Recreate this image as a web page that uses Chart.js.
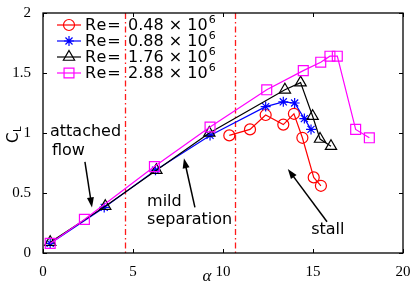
<!DOCTYPE html>
<html>
<head>
<meta charset="utf-8">
<script src="https://cdn.jsdelivr.net/npm/chart.js@4.4.0/dist/chart.umd.min.js"></script>
<style>
  html, body { margin: 0; padding: 0; background: #fff; }
</style>
</head>
<body>
<canvas id="myChart" width="415" height="284"></canvas>
<script>
// angle of attack and lift coefficient, one pair of arrays per Reynolds number
const alphaRe048 = [10.35, 11.5, 12.37, 13.35, 13.94, 14.41, 15.04, 15.44];
const clRe048 = [0.98, 1.03, 1.15, 1.07, 1.16, 0.96, 0.63, 0.56];

const alphaRe088 = [0.4, 3.4, 6.25, 9.28, 12.37, 13.35, 13.98, 14.52, 14.89];
const clRe088 = [0.08, 0.38, 0.69, 0.98, 1.22, 1.26, 1.25, 1.12, 1.03];

const alphaRe176 = [0.4, 3.46, 6.3, 9.24, 13.44, 14.31, 14.98, 15.39, 16.0];
const clRe176 = [0.09, 0.39, 0.69, 1.0, 1.36, 1.42, 1.14, 0.95, 0.89];

const alphaRe288 = [0.4, 2.3, 6.19, 9.28, 12.43, 14.46, 15.43, 15.94, 16.35, 17.37, 18.13];
const clRe288 = [0.08, 0.28, 0.72, 1.05, 1.36, 1.52, 1.59, 1.64, 1.64, 1.03, 0.96];

const reLabels = ['0.48', '0.88', '1.76', '2.88'];
const xTicks = [0, 5, 10, 15, 20];
const yTicks = [0, 0.5, 1, 1.5, 2];

// regime boundaries (dash-dot lines)
const regimeLines = [4.57, 10.67];

const toPoints = (xs, ys) => xs.map((x, i) => ({ x: x, y: ys[i] }));

const series = [
  { data: toPoints(alphaRe048, clRe048), color: '#ff0000', style: 'circle', radius: 5.5 },
  { data: toPoints(alphaRe088, clRe088), color: '#0000ff', style: 'star', radius: 5 },
  { data: toPoints(alphaRe176, clRe176), color: '#000000', style: 'triangle', radius: 6.5 },
  { data: toPoints(alphaRe288, clRe288), color: '#ff00ff', style: 'rect', radius: 7 },
];

// text notes and arrows, in data coordinates
const notes = [
  { text: 'attached', x: 0.39, y: 1.01 },
  { text: 'flow', x: 0.5, y: 0.85 },
  { text: 'mild', x: 5.78, y: 0.43 },
  { text: 'separation', x: 5.78, y: 0.275 },
  { text: 'stall', x: 14.9, y: 0.19 },
];
const arrows = [
  { from: [2.33, 0.76], to: [2.72, 0.38] },
  { from: [8.44, 0.38], to: [7.83, 0.79] },
  { from: [15.78, 0.26], to: [13.6, 0.70] },
];

const SANS = '"DejaVu Sans", sans-serif';
const SERIF = 'Liberation Serif';

const regimePlugin = {
  id: 'regimes',
  beforeDatasetsDraw(chart) {
    const { ctx, chartArea, scales } = chart;
    ctx.save();
    ctx.strokeStyle = '#ff1a1a';
    ctx.lineWidth = 1.3;
    ctx.setLineDash([6, 3, 1.5, 3]);
    regimeLines.forEach((a) => {
      const px = Math.round(scales.x.getPixelForValue(a)) + 0.5;
      ctx.beginPath();
      ctx.moveTo(px, chartArea.top);
      ctx.lineTo(px, chartArea.bottom);
      ctx.stroke();
    });
    ctx.restore();
  },
};

const decorPlugin = {
  id: 'decor',
  afterDraw(chart) {
    const { ctx, chartArea, scales } = chart;
    const { left, right, top, bottom } = chartArea;
    ctx.save();

    // frame and inward ticks
    ctx.strokeStyle = '#000';
    ctx.lineWidth = 1.3;
    ctx.strokeRect(left, top, right - left, bottom - top);
    ctx.lineWidth = 1;
    const tl = 4;
    xTicks.forEach((v) => {
      const px = Math.round(scales.x.getPixelForValue(v)) + 0.5;
      ctx.beginPath();
      ctx.moveTo(px, bottom); ctx.lineTo(px, bottom - tl);
      ctx.moveTo(px, top); ctx.lineTo(px, top + tl);
      ctx.stroke();
    });
    yTicks.forEach((v) => {
      const py = Math.round(scales.y.getPixelForValue(v)) + 0.5;
      ctx.beginPath();
      ctx.moveTo(left, py); ctx.lineTo(left + tl, py);
      ctx.moveTo(right, py); ctx.lineTo(right - tl, py);
      ctx.stroke();
    });

    // legend
    ctx.textBaseline = 'middle';
    series.forEach((s, i) => {
      const y = 25 + i * 16;
      ctx.strokeStyle = s.color;
      ctx.lineWidth = 1.2;
      ctx.beginPath();
      ctx.moveTo(57, y); ctx.lineTo(81, y);
      ctx.stroke();
      ctx.fillStyle = 'rgba(0,0,0,0)';
      Chart.helpers.drawPoint(ctx, { pointStyle: s.style, radius: s.radius, rotation: 0, borderWidth: 1.2 }, 69, y);
      ctx.fillStyle = '#000';
      ctx.font = '16px ' + SANS;
      ctx.textAlign = 'left';
      ctx.letterSpacing = '1px';
      ctx.fillText('Re=', 85, y + 1);
      ctx.letterSpacing = '0px';
      const label = ' ' + reLabels[i] + ' \u00d7 10';
      ctx.fillText(label, 123, y + 1);
      const w = ctx.measureText(label).width;
      ctx.font = '11px ' + SANS;
      ctx.fillText('6', 123 + w + 1, y - 5);
    });

    // notes and arrows
    ctx.fillStyle = '#000';
    ctx.font = '16px ' + SANS;
    ctx.textAlign = 'left';
    ctx.textBaseline = 'middle';
    notes.forEach((n) => {
      ctx.fillText(n.text, scales.x.getPixelForValue(n.x), scales.y.getPixelForValue(n.y));
    });
    ctx.strokeStyle = '#000';
    ctx.lineWidth = 1.5;
    arrows.forEach((a) => {
      const x0 = scales.x.getPixelForValue(a.from[0]);
      const y0 = scales.y.getPixelForValue(a.from[1]);
      const x1 = scales.x.getPixelForValue(a.to[0]);
      const y1 = scales.y.getPixelForValue(a.to[1]);
      const ang = Math.atan2(y1 - y0, x1 - x0);
      const hl = 10, hw = 3.5;
      ctx.beginPath();
      ctx.moveTo(x0, y0);
      ctx.lineTo(x1 - hl * 0.8 * Math.cos(ang), y1 - hl * 0.8 * Math.sin(ang));
      ctx.stroke();
      ctx.beginPath();
      ctx.moveTo(x1, y1);
      ctx.lineTo(x1 - hl * Math.cos(ang) + hw * Math.sin(ang), y1 - hl * Math.sin(ang) - hw * Math.cos(ang));
      ctx.lineTo(x1 - hl * Math.cos(ang) - hw * Math.sin(ang), y1 - hl * Math.sin(ang) + hw * Math.cos(ang));
      ctx.closePath();
      ctx.fill();
    });

    // axis titles
    ctx.font = 'italic 17px ' + SERIF;
    ctx.textAlign = 'center';
    ctx.textBaseline = 'alphabetic';
    ctx.fillText('\u03b1', (left + right) / 2 - 16, 281);

    ctx.translate(18, 143);
    ctx.rotate(-Math.PI / 2);
    ctx.textAlign = 'left';
    ctx.font = '15px ' + SANS;
    ctx.fillText('C', 0, 0);
    const cw = ctx.measureText('C').width;
    ctx.font = '10px ' + SANS;
    ctx.fillText('L', cw + 0.5, 3);

    ctx.restore();
  },
};

new Chart(document.getElementById('myChart').getContext('2d'), {
  type: 'scatter',
  data: {
    datasets: series.map((s, i) => ({
      label: 'Re= ' + reLabels[i] + ' \u00d7 10^6',
      data: s.data,
      showLine: true,
      borderColor: s.color,
      borderWidth: 1.2,
      backgroundColor: 'rgba(0,0,0,0)',
      pointStyle: s.style,
      pointRadius: s.radius,
      pointHoverRadius: s.radius,
      pointBorderColor: s.color,
      pointBorderWidth: 1.2,
      pointBackgroundColor: 'rgba(0,0,0,0)',
      order: 3 - i,
    })),
  },
  options: {
    responsive: false,
    animation: false,
    devicePixelRatio: 1,
    layout: { padding: { top: 13, right: 12, left: 0, bottom: 0 } },
    plugins: {
      legend: { display: false },
      tooltip: { enabled: false },
    },
    scales: {
      x: {
        type: 'linear',
        min: 0,
        max: 20,
        grid: { display: false },
        border: { display: false },
        ticks: {
          stepSize: 5,
          padding: 2,
          color: '#000',
          font: { family: SERIF, size: 15 },
          maxRotation: 0,
        },
        afterFit(scale) { scale.height = 31; },
      },
      y: {
        min: 0,
        max: 2,
        grid: { display: false },
        border: { display: false },
        ticks: {
          stepSize: 0.5,
          padding: 4,
          color: '#000',
          font: { family: SERIF, size: 15 },
          callback: (v) => String(v),
        },
        afterFit(scale) { scale.width = 43; },
      },
    },
  },
  plugins: [regimePlugin, decorPlugin],
});
</script>
</body>
</html>
